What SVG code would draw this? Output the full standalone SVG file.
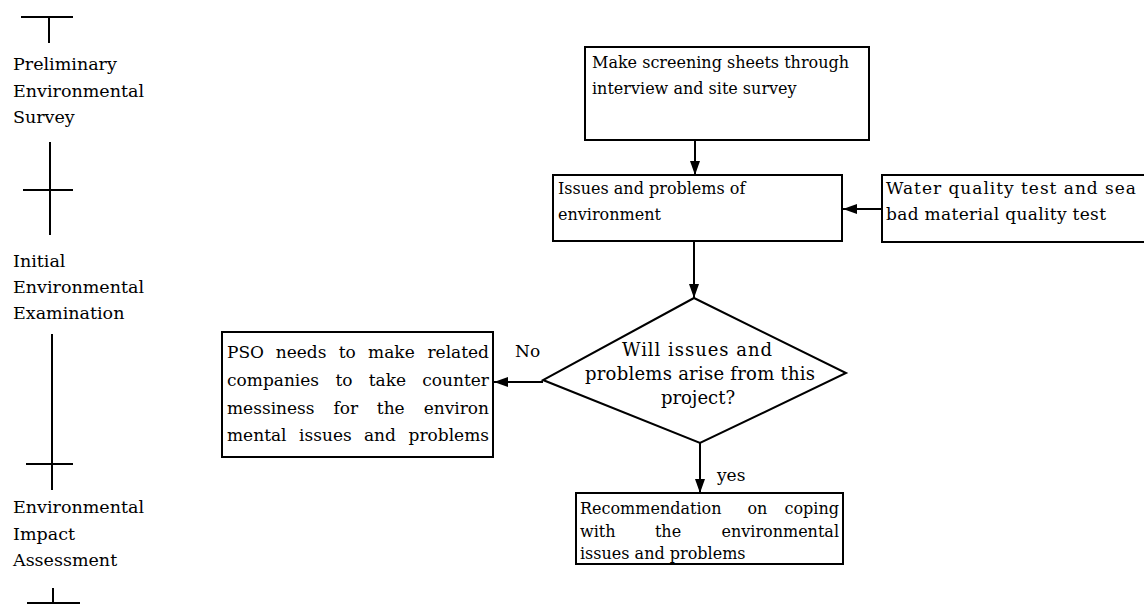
<svg xmlns="http://www.w3.org/2000/svg" width="1144" height="610" viewBox="0 0 1144 610">
<defs>
<style>
text{font-family:"DejaVu Serif","Liberation Serif",serif;font-size:16px;fill:#000}
.lab{font-size:17.5px}
.p17{font-size:17px}
.d18{font-size:18px}
.box{fill:#fff;stroke:#000;stroke-width:2}
.ln{stroke:#000;stroke-width:2;fill:none}
.e{text-anchor:end}
.m{text-anchor:middle}
</style>
<marker id="ah" markerUnits="userSpaceOnUse" markerWidth="14" markerHeight="10" refX="14" refY="5" orient="auto">
<path d="M0,0 L14,5 L0,10 z" fill="#000"/>
</marker>
</defs>
<rect width="1144" height="610" fill="#fff"/>
<g id="timeline">
<path class="ln" d="M21,17 H73 M49,17 V43"/>
<text class="lab" x="13" y="70">Preliminary</text>
<text class="lab" x="13" y="97">Environmental</text>
<text class="lab" x="13" y="123">Survey</text>
<path class="ln" d="M50,142 V235 M23,190 H73"/>
<text class="lab" x="13" y="267">Initial</text>
<text class="lab" x="13" y="293">Environmental</text>
<text class="lab" x="13" y="319">Examination</text>
<path class="ln" d="M52,334 V490 M26,464 H73"/>
<text class="lab" x="13" y="513">Environmental</text>
<text class="lab" x="13" y="540">Impact</text>
<text class="lab" x="13" y="566">Assessment</text>
<path class="ln" d="M53,588 V603 M27,603 H80"/>
</g>
<g id="connectors">
<line class="ln" x1="695" y1="140" x2="695" y2="175" marker-end="url(#ah)"/>
<line class="ln" x1="882" y1="209" x2="843" y2="209" marker-end="url(#ah)"/>
<line class="ln" x1="694" y1="241" x2="694" y2="298" marker-end="url(#ah)"/>
<line class="ln" x1="543" y1="382" x2="494" y2="382" marker-end="url(#ah)"/>
<line class="ln" x1="700" y1="443" x2="700" y2="493" marker-end="url(#ah)"/>
<text class="p17" x="515" y="357">No</text>
<text class="p17" x="717" y="481">yes</text>
</g>
<g id="screening">
<rect class="box" x="585" y="47" width="284" height="93"/>
<text x="592" y="68">Make screening sheets through</text>
<text x="592" y="94">interview and site survey</text>
</g>
<g id="issues">
<rect class="box" x="553" y="175" width="289" height="66"/>
<text x="558" y="194">Issues and problems of</text>
<text x="558" y="220">environment</text>
</g>
<g id="watertest">
<rect class="box" x="882" y="175" width="270" height="67"/>
<text class="p17" x="886" y="194" textLength="250" lengthAdjust="spacing">Water quality test and sea</text>
<text class="p17" x="886" y="220" textLength="220" lengthAdjust="spacing">bad material quality test</text>
</g>
<g id="decision">
<polygon class="box" points="694,298 846,373 700,443 543,380"/>
<text class="d18" x="622" y="356" textLength="150" lengthAdjust="spacing">Will issues and</text>
<text class="d18" x="585" y="380" textLength="230" lengthAdjust="spacing">problems arise from this</text>
<text class="d18 m" x="698" y="404">project?</text>
</g>
<g id="pso">
<rect class="box" x="222" y="332" width="271" height="125"/>
<text class="p17" y="358"><tspan x="227">PSO</tspan><tspan x="275.7">needs</tspan><tspan x="338.7">to</tspan><tspan x="368.1">make</tspan></text>
<text class="p17 e" x="489" y="358">related</text>
<text class="p17" y="386"><tspan x="227">companies</tspan><tspan x="335.5">to</tspan><tspan x="368.7">take</tspan></text>
<text class="p17 e" x="489" y="386">counter</text>
<text class="p17" y="414"><tspan x="227">messiness</tspan><tspan x="333.5">for</tspan><tspan x="376.8">the</tspan></text>
<text class="p17 e" x="489" y="414">environ</text>
<text class="p17" y="441"><tspan x="227">mental</tspan><tspan x="299.1">issues</tspan><tspan x="363.9">and</tspan></text>
<text class="p17 e" x="489" y="441">problems</text>
</g>
<g id="recommendation">
<rect class="box" x="576" y="493" width="267" height="71"/>
<text x="580" y="514">Recommendation</text>
<text x="747.4" y="514">on</text>
<text class="e" x="839" y="514">coping</text>
<text x="580" y="537">with</text>
<text x="654.9" y="537">the</text>
<text class="e" x="839" y="537">environmental</text>
<text x="580" y="559">issues and problems</text>
</g>
</svg>
